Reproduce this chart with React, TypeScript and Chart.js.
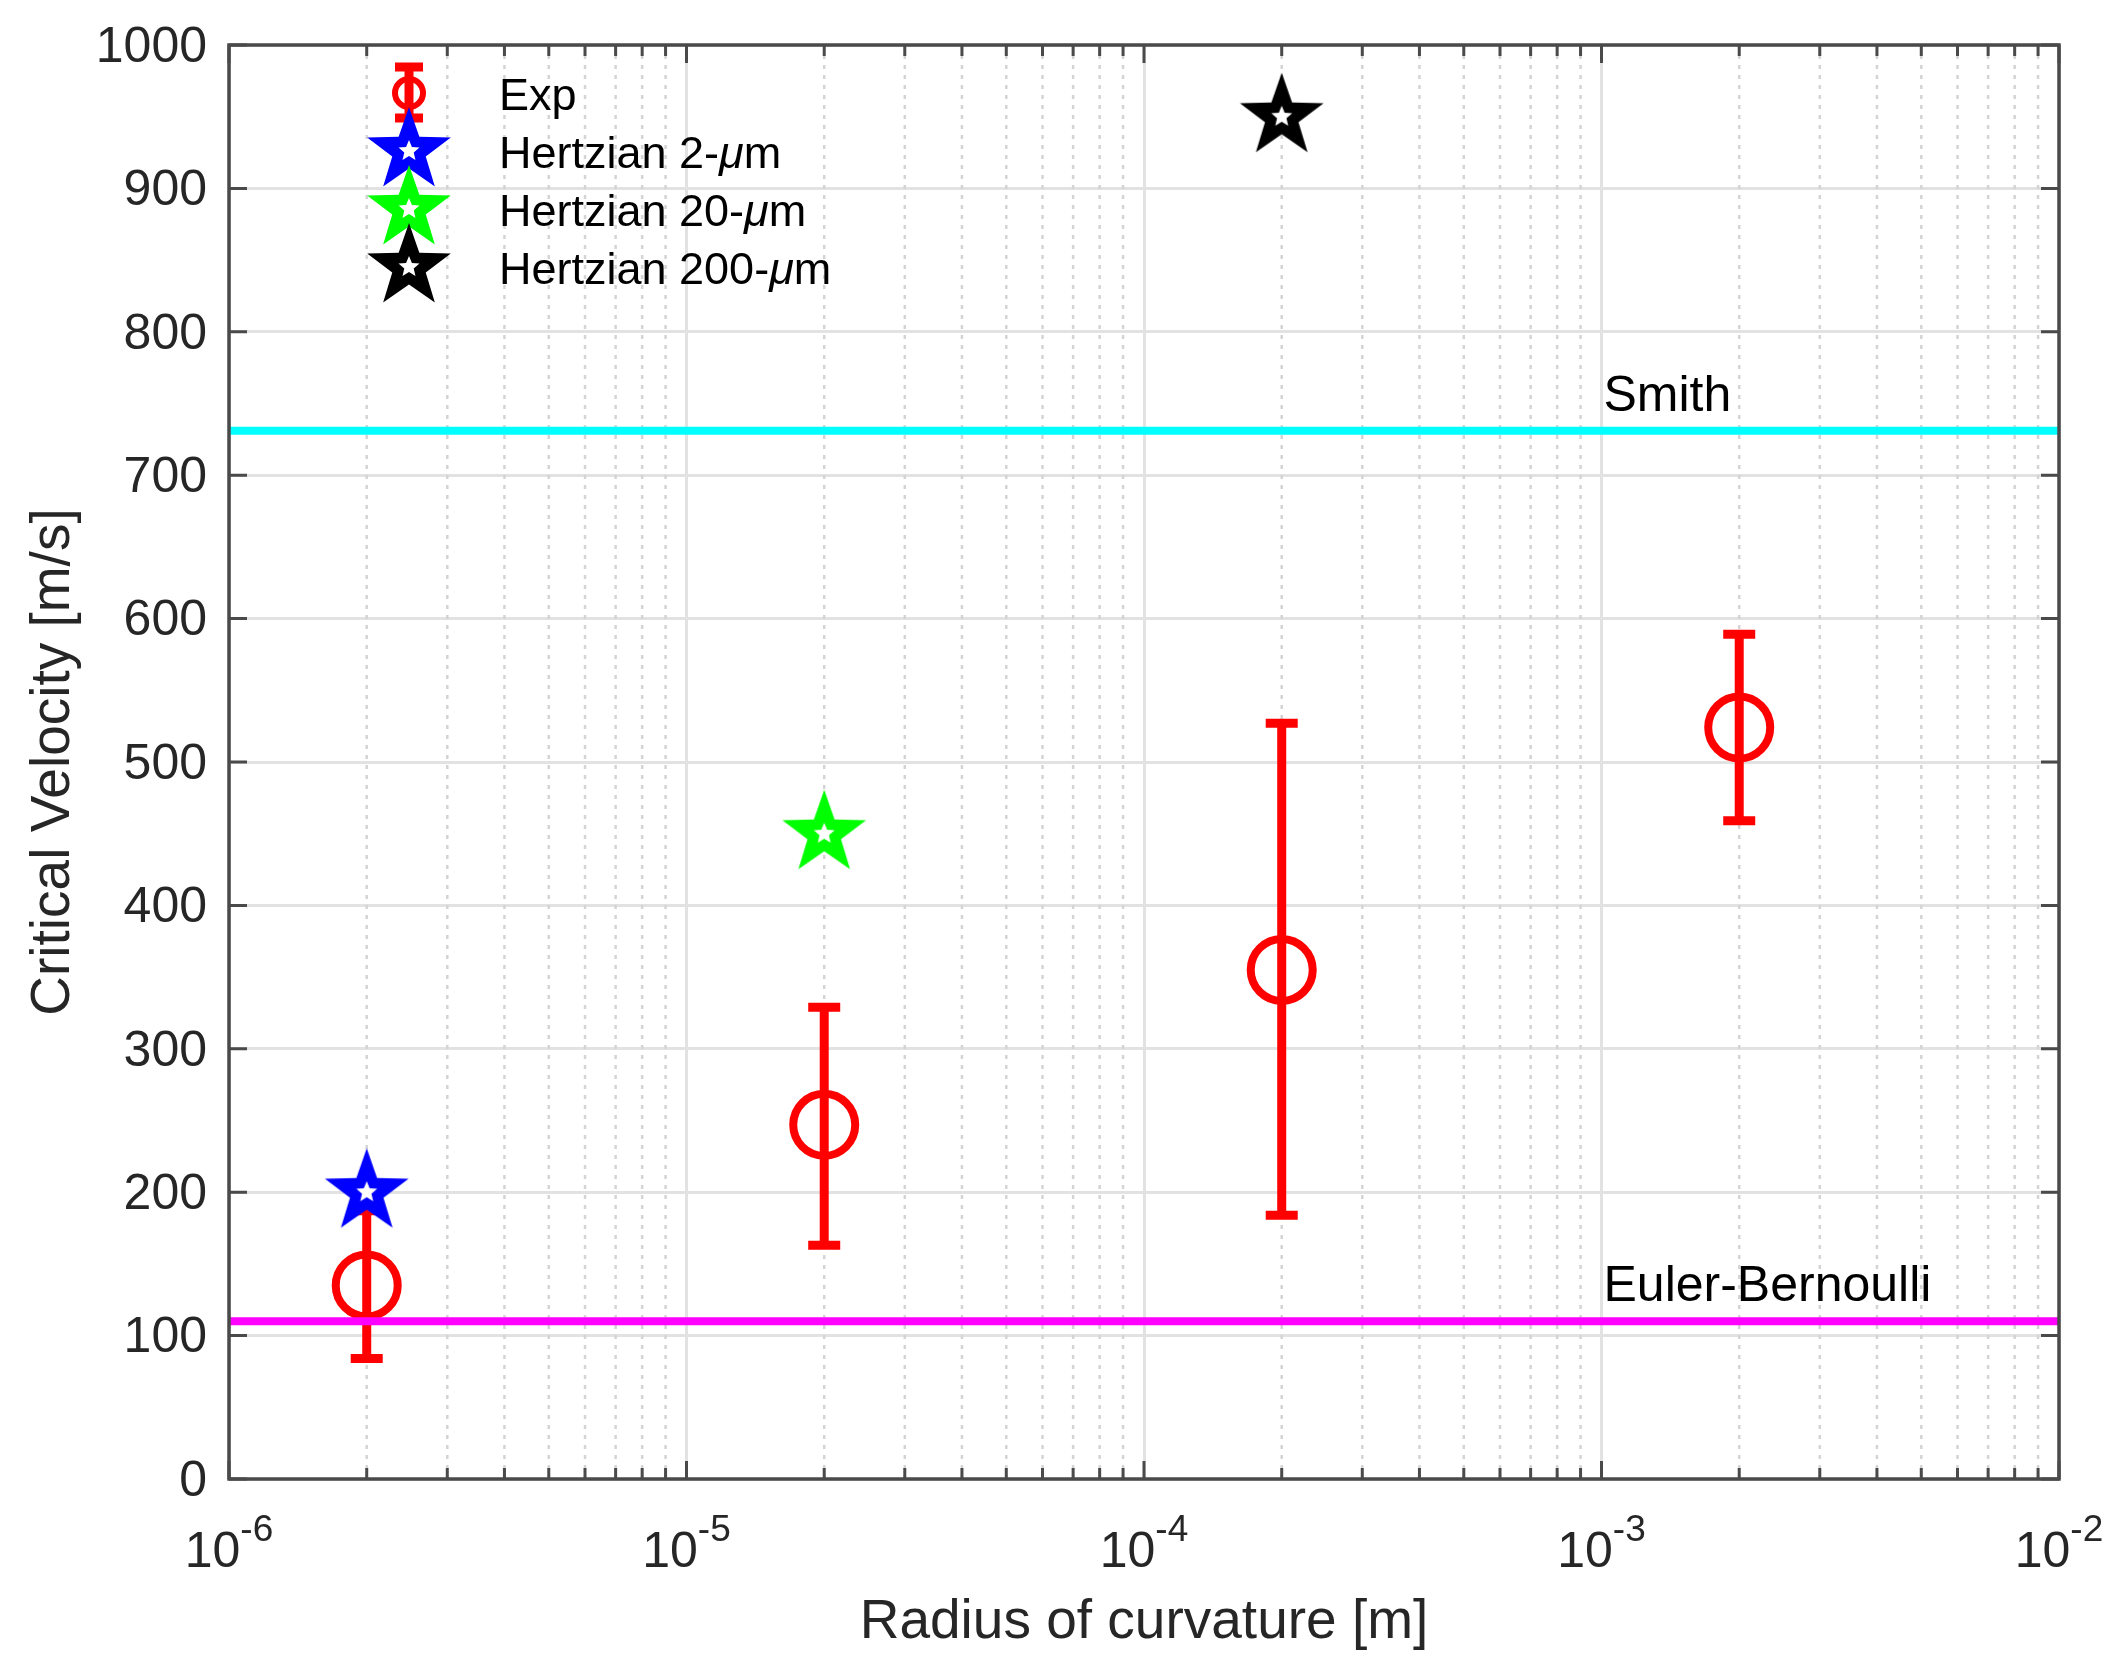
import React, { useEffect, useRef } from "react";
import { Chart, registerables } from "chart.js";

Chart.register(...registerables);

const radius = [2e-6, 2e-5, 2e-4, 2e-3];
const expVelocity = [135, 247, 355, 524];
const expLow = [84, 163, 184, 459];
const expHigh = [187, 329, 527, 589];

const hertzRadius = [2e-6, 2e-5, 2e-4];
const hertzVelocity = [200, 450, 950];
const hertzSizes = ["2", "20", "200"];
const hertzColors = ["#0000ff", "#00ff00", "#000000"];

const smithVelocity = 731;
const eulerVelocity = 110;

const xRange = [1e-6, 1e-2];
const xExponents = [-6, -5, -4, -3, -2];
const yTicks = [0, 100, 200, 300, 400, 500, 600, 700, 800, 900, 1000];

const FONT = '"Liberation Sans", Arial, Helvetica, sans-serif';
const AXIS_COLOR = "#4a4a4a";
const TEXT_COLOR = "#262626";

// all tick positions on the log axis (1..9 per decade)
const xTickValues: number[] = [];
xExponents.forEach((e, i) => {
  if (i === xExponents.length - 1) {
    xTickValues.push(Math.pow(10, e));
    return;
  }
  for (let k = 1; k <= 9; k++) xTickValues.push(k * Math.pow(10, e));
});

const isDecade = (v: number) => {
  const l = Math.log10(v);
  return Math.abs(l - Math.round(l)) < 1e-9;
};

function starPath(g: CanvasRenderingContext2D, cx: number, cy: number, outer: number, inner: number) {
  g.beginPath();
  for (let i = 0; i < 10; i++) {
    const r = i % 2 === 0 ? outer : inner;
    const a = -Math.PI / 2 + (i * Math.PI) / 5;
    const px = cx + r * Math.cos(a);
    const py = cy + r * Math.sin(a);
    if (i === 0) g.moveTo(px, py);
    else g.lineTo(px, py);
  }
  g.closePath();
}

// MATLAB-like pentagram marker with thick edge (small white hole in the middle)
function makeStar(color: string, outer: number): HTMLCanvasElement {
  const size = Math.ceil(outer * 2 + 4);
  const c = document.createElement("canvas");
  c.width = size;
  c.height = size;
  const g = c.getContext("2d")!;
  const mid = size / 2;
  starPath(g, mid, mid, outer, outer * 0.4);
  g.fillStyle = color;
  g.fill();
  starPath(g, mid, mid, 11, 11 * 0.45);
  g.fillStyle = "#ffffff";
  g.fill();
  return c;
}

const decorPlugin = {
  id: "decor",
  beforeDatasetsDraw(chart: any) {
    const { ctx, chartArea: a, scales } = chart;
    const xs = scales.x;
    const ys = scales.y;

    // minor dotted grid
    ctx.save();
    ctx.strokeStyle = "#d4d4d4";
    ctx.lineWidth = 2.5;
    ctx.setLineDash([4, 6]);
    xTickValues.forEach((v) => {
      if (isDecade(v)) return;
      const px = xs.getPixelForValue(v);
      ctx.beginPath();
      ctx.moveTo(px, a.top);
      ctx.lineTo(px, a.bottom);
      ctx.stroke();
    });
    ctx.restore();

    // error bars for Exp
    ctx.save();
    ctx.strokeStyle = "#ff0000";
    ctx.lineWidth = 9;
    ctx.lineCap = "butt";
    radius.forEach((r, i) => {
      const px = xs.getPixelForValue(r);
      const lo = ys.getPixelForValue(expLow[i]);
      const hi = ys.getPixelForValue(expHigh[i]);
      ctx.beginPath();
      ctx.moveTo(px, lo);
      ctx.lineTo(px, hi);
      ctx.moveTo(px - 16, lo);
      ctx.lineTo(px + 16, lo);
      ctx.moveTo(px - 16, hi);
      ctx.lineTo(px + 16, hi);
      ctx.stroke();
    });
    ctx.restore();
  },
  afterDatasetsDraw(chart: any) {
    const { ctx, chartArea: a, scales } = chart;
    const xs = scales.x;
    const ys = scales.y;

    // axes box + inward ticks
    ctx.save();
    ctx.strokeStyle = AXIS_COLOR;
    ctx.lineWidth = 3;
    ctx.beginPath();
    xTickValues.forEach((v) => {
      const px = xs.getPixelForValue(v);
      const len = isDecade(v) ? 18 : 11;
      ctx.moveTo(px, a.bottom);
      ctx.lineTo(px, a.bottom - len);
      ctx.moveTo(px, a.top);
      ctx.lineTo(px, a.top + len);
    });
    yTicks.forEach((v) => {
      const py = ys.getPixelForValue(v);
      ctx.moveTo(a.left, py);
      ctx.lineTo(a.left + 18, py);
      ctx.moveTo(a.right, py);
      ctx.lineTo(a.right - 18, py);
    });
    ctx.stroke();
    ctx.lineWidth = 3.5;
    ctx.strokeRect(a.left, a.top, a.right - a.left, a.bottom - a.top);
    ctx.restore();

    ctx.save();
    ctx.fillStyle = TEXT_COLOR;

    // y tick labels
    ctx.font = `50px ${FONT}`;
    ctx.textAlign = "right";
    ctx.textBaseline = "middle";
    yTicks.forEach((v) => {
      ctx.fillText(String(v), a.left - 22, ys.getPixelForValue(v) + 3);
    });

    // x tick labels 10^n
    ctx.textBaseline = "alphabetic";
    ctx.textAlign = "left";
    xExponents.forEach((e) => {
      const px = xs.getPixelForValue(Math.pow(10, e));
      ctx.font = `50px ${FONT}`;
      const baseW = ctx.measureText("10").width;
      ctx.font = `37px ${FONT}`;
      const sup = "-" + String(-e);
      const supW = ctx.measureText(sup).width;
      const start = px - (baseW + supW) / 2;
      ctx.font = `50px ${FONT}`;
      ctx.fillText("10", start, a.bottom + 88);
      ctx.font = `37px ${FONT}`;
      ctx.fillText(sup, start + baseW, a.bottom + 62);
    });

    // axis titles
    ctx.font = `55px ${FONT}`;
    ctx.textAlign = "center";
    ctx.fillText("Radius of curvature [m]", (a.left + a.right) / 2, a.bottom + 159);
    ctx.save();
    ctx.translate(69, (a.top + a.bottom) / 2);
    ctx.rotate(-Math.PI / 2);
    ctx.fillText("Critical Velocity [m/s]", 0, 0);
    ctx.restore();

    // line labels
    ctx.fillStyle = "#000000";
    ctx.font = `50px ${FONT}`;
    ctx.textAlign = "left";
    const labelX = xs.getPixelForValue(1e-3) + 2;
    ctx.fillText("Smith", labelX, ys.getPixelForValue(smithVelocity) - 20);
    ctx.fillText("Euler-Bernoulli", labelX, ys.getPixelForValue(eulerVelocity) - 20);

    // legend (no box)
    const mx = 409;
    const rows = [93, 151, 209, 267];
    ctx.strokeStyle = "#ff0000";
    ctx.lineWidth = 9;
    ctx.beginPath();
    ctx.moveTo(mx, rows[0] - 26);
    ctx.lineTo(mx, rows[0] + 25);
    ctx.moveTo(mx - 14, rows[0] - 26);
    ctx.lineTo(mx + 14, rows[0] - 26);
    ctx.moveTo(mx - 14, rows[0] + 25);
    ctx.lineTo(mx + 14, rows[0] + 25);
    ctx.stroke();
    ctx.lineWidth = 6;
    ctx.beginPath();
    ctx.arc(mx, rows[0], 14, 0, Math.PI * 2);
    ctx.stroke();
    hertzColors.forEach((c, i) => {
      const img = starImages[i];
      ctx.drawImage(img, mx - img.width / 2, rows[i + 1] - img.height / 2);
    });

    ctx.fillStyle = "#000000";
    ctx.font = `45px ${FONT}`;
    ctx.fillText("Exp", 499, rows[0] + 17);
    hertzSizes.forEach((s, i) => {
      const base = rows[i + 1] + 17;
      let tx = 499;
      ctx.font = `45px ${FONT}`;
      const head = `Hertzian ${s}-`;
      ctx.fillText(head, tx, base);
      tx += ctx.measureText(head).width;
      ctx.font = `italic 45px ${FONT}`;
      ctx.fillText("\u03bc", tx, base);
      tx += ctx.measureText("\u03bc").width;
      ctx.font = `45px ${FONT}`;
      ctx.fillText("m", tx, base);
    });
    ctx.restore();
  },
};

const starImages = hertzColors.map((c) => makeStar(c, 44));

const App: React.FC = () => {
  const canvasRef = useRef<HTMLCanvasElement>(null);
  const chartRef = useRef<Chart | null>(null);

  useEffect(() => {
    document.body.style.margin = "0";
    if (!canvasRef.current) return;
    if (chartRef.current) chartRef.current.destroy();

    const hertzSets = hertzRadius.map((r, i) => ({
      label: `Hertzian ${hertzSizes[i]}-um`,
      data: [{ x: r, y: hertzVelocity[i] }],
      pointStyle: starImages[i],
      pointRadius: 44,
      borderColor: hertzColors[i],
      backgroundColor: hertzColors[i],
      order: 2,
    }));

    chartRef.current = new Chart(canvasRef.current, {
      type: "scatter",
      data: {
        datasets: [
          {
            label: "Smith",
            type: "line",
            data: xRange.map((x) => ({ x, y: smithVelocity })),
            borderColor: "#00ffff",
            borderWidth: 8,
            pointRadius: 0,
            order: 1,
          },
          {
            label: "Euler-Bernoulli",
            type: "line",
            data: xRange.map((x) => ({ x, y: eulerVelocity })),
            borderColor: "#ff00ff",
            borderWidth: 8,
            pointRadius: 0,
            order: 1,
          },
          ...hertzSets,
          {
            label: "Exp",
            data: radius.map((r, i) => ({ x: r, y: expVelocity[i] })),
            pointStyle: "circle",
            pointRadius: 31,
            pointBorderWidth: 8,
            borderColor: "#ff0000",
            backgroundColor: "rgba(0,0,0,0)",
            order: 3,
          },
        ] as any,
      },
      options: {
        animation: false,
        responsive: false,
        events: [],
        layout: { padding: { left: 229, top: 33, right: 65, bottom: 194 } },
        plugins: { legend: { display: false }, tooltip: { enabled: false } },
        scales: {
          x: {
            type: "logarithmic",
            min: xRange[0],
            max: xRange[1],
            afterBuildTicks: (s: any) => {
              s.ticks = xTickValues.map((v) => ({ value: v, major: isDecade(v) }));
            },
            ticks: { display: false },
            grid: {
              drawTicks: false,
              lineWidth: 3,
              color: (c: any) => (c.tick && isDecade(c.tick.value) ? "#e2e2e2" : "rgba(0,0,0,0)"),
            },
            border: { display: false },
          },
          y: {
            type: "linear",
            min: 0,
            max: 1000,
            ticks: { display: false, stepSize: 100 },
            grid: { drawTicks: false, lineWidth: 3, color: "#e2e2e2" },
            border: { display: false },
          },
        },
      },
      plugins: [decorPlugin],
    });

    return () => {
      if (chartRef.current) {
        chartRef.current.destroy();
        chartRef.current = null;
      }
    };
  }, []);

  return (
    <div style={{ width: 2124, height: 1673, background: "#fff", overflow: "hidden" }}>
      <canvas ref={canvasRef} width={2124} height={1673} style={{ display: "block" }}></canvas>
    </div>
  );
};

export default App;
